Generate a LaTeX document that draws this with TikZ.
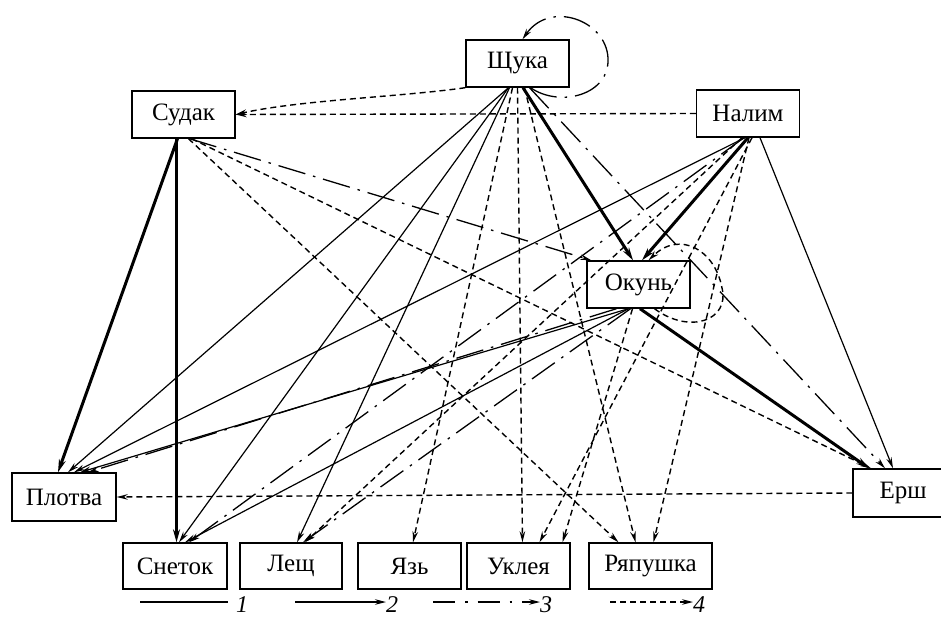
\documentclass[tikz,border=0pt]{standalone}
\usepackage{fontspec}
\setmainfont{Liberation Serif}
\usetikzlibrary{arrows.meta}
\begin{document}
\begin{tikzpicture}[x=1pt,y=-1pt,
 box/.style={draw,line width=1.4pt,minimum width=103pt,minimum height=47pt,inner sep=0pt,fill=white,font=\fontsize{25}{29}\selectfont},
 tA/.style={line width=3pt,-{Stealth[length=13pt,width=7pt]}},
 tB/.style={line width=1.2pt,-{Stealth[length=11pt,width=5.5pt]}},
 tC/.style={line width=1.3pt,dash pattern=on 28pt off 8pt on 2.5pt off 8pt,-{Stealth[length=11pt,width=5.5pt]}},
 tD/.style={line width=1.4pt,dash pattern=on 6pt off 4pt,-{Stealth[length=11pt,width=5.5pt]}},
 lab/.style={font=\fontsize{24}{28}\selectfont\itshape,inner sep=0pt}]
\useasboundingbox (0,0) rectangle (941,631);

\node[box] (Sch) at (517.5,63.5) {Щука};
\node[box] (Sud) at (183.5,114.5) {Судак};
\node[box] (Nal) at (748,113.5) {Налим};
\node[box] (Oku) at (638.5,284.5) {Окунь};
\node[box,minimum width=104pt,minimum height=48pt] (Plo) at (64,497) {Плотва};
\node[box,minimum width=104pt,minimum height=48pt] (Ersh) at (905,493) {\hspace*{-4pt}Ерш};
\node[box,minimum width=104pt,minimum height=46pt] (Sne) at (175,566) {Снеток};
\node[box,minimum width=102pt,minimum height=46pt] (Les) at (291,566) {Лещ};
\node[box,minimum width=103pt,minimum height=46pt] (Yaz) at (409.5,566) {Язь};
\node[box,minimum width=103pt,minimum height=46pt] (Ukl) at (518.5,566) {Уклея};
\node[box,minimum width=123pt,minimum height=46pt] (Rya) at (650.5,566) {Ряпушка};

% type 1 (thick)
\draw[tA] ([xshift=-6pt]Sud.south) -- ([xshift=-6pt]Plo.north);
\draw[tA] ([xshift=-7pt]Sud.south) -- ([xshift=1.5pt]Sne.north);
\draw[tA] ([xshift=5.5pt]Sch.south) -- ([xshift=-5.5pt]Oku.north);
\draw[tA] (Nal.south) -- ([xshift=3.5pt]Oku.north);
\draw[tA] ([xshift=1.5pt]Oku.south) -- ([xshift=-36pt]Ersh.north);

% type 2 (thin)
\draw[tB] ([xshift=-9pt]Sch.south) -- ([xshift=4pt]Plo.north);
\draw[tB] ([xshift=-9pt]Sch.south) -- ([xshift=4pt]Sne.north);
\draw[tB] ([xshift=-8pt]Sch.south) -- ([xshift=6pt]Les.north);
\draw[tB] ([xshift=-3pt]Nal.south) -- ([xshift=10pt]Plo.north);
\draw[tB] ([xshift=12pt]Nal.south) -- ([xshift=-12pt]Ersh.north);
\draw[tB] ([xshift=-10pt]Oku.south) -- ([xshift=16pt]Plo.north);
\draw[tB] ([xshift=-10pt]Oku.south) -- ([xshift=10pt]Sne.north);

% type 3 (dash-dot)
\draw[tC] ([xshift=6pt]Sud.south) -- ([xshift=5pt]Oku.north west);
\draw[tC] ([xshift=12pt]Sch.south) -- ([xshift=-20pt]Ersh.north);
\draw[tC] ([xshift=-8pt]Oku.south) -- ([xshift=12pt]Les.north);
\draw[tC] ([xshift=-22pt]Oku.south) -- ([xshift=24pt]Plo.north);
\draw[tC] ([xshift=-4pt]Nal.south) -- ([xshift=14pt]Sne.north);
\draw[tC] ([xshift=13pt]Sch.south) .. controls (560,108) and (610,95) .. (608,58)
  .. controls (606,20) and (550,0) .. ([xshift=5pt]Sch.north);

% type 4 (dashed)
\draw[tD] ([xshift=8pt]Sud.south) -- ([xshift=-34pt]Ersh.north);
\draw[tD] ([xshift=5pt]Sud.south) -- ([xshift=-32pt]Rya.north);
\draw[tD] (Sch.south west) .. controls (400,97) and (300,100) .. (Sud.east);
\draw[tD] (Nal.west) -- (Sud.east);
\draw[tD] ([xshift=-5pt]Sch.south) -- ([xshift=3.5pt]Yaz.north);
\draw[tD] ([xshift=0pt]Sch.south) -- ([xshift=4pt]Ukl.north);
\draw[tD] ([xshift=7pt]Sch.south) -- ([xshift=-15pt]Rya.north);
\draw[tD] ([xshift=-6pt]Nal.south) -- ([xshift=14pt]Les.north);
\draw[tD] ([xshift=4pt]Nal.south) -- ([xshift=21pt]Ukl.north);
\draw[tD] ([xshift=1pt]Nal.south) -- ([xshift=3pt]Rya.north);
\draw[tD] ([xshift=-6pt]Oku.south) -- ([xshift=44pt]Ukl.north);
\draw[tD] (Ersh.west) -- (Plo.east);
\draw[tD] ([xshift=16pt]Oku.south) .. controls (690,335) and (730,320) .. (722,288)
  .. controls (715,250) and (680,230) .. ([xshift=10pt]Oku.north);

% legend
\coordinate (l1a) at (140,602); \coordinate (l1b) at (228,602);
\coordinate (l2a) at (295,602); \coordinate (l2b) at (386,602);
\coordinate (l3a) at (433,602); \coordinate (l3b) at (540,602);
\coordinate (l4a) at (610,602); \coordinate (l4b) at (693,602);
\draw[line width=2.2pt] (l1a) -- (l1b);
\draw[tB] (l2a) -- (l2b);
\draw[tC,dash pattern=on 22pt off 10pt on 2.5pt off 10pt] (l3a) -- (l3b);
\draw[tD] (l4a) -- (l4b);
\node[lab,anchor=west] (n1) at (236,605) {1};
\node[lab,anchor=west] (n2) at (386,605) {2};
\node[lab,anchor=west] (n3) at (540,605) {3};
\node[lab,anchor=west] (n4) at (693,605) {4};
\end{tikzpicture}
\end{document}
